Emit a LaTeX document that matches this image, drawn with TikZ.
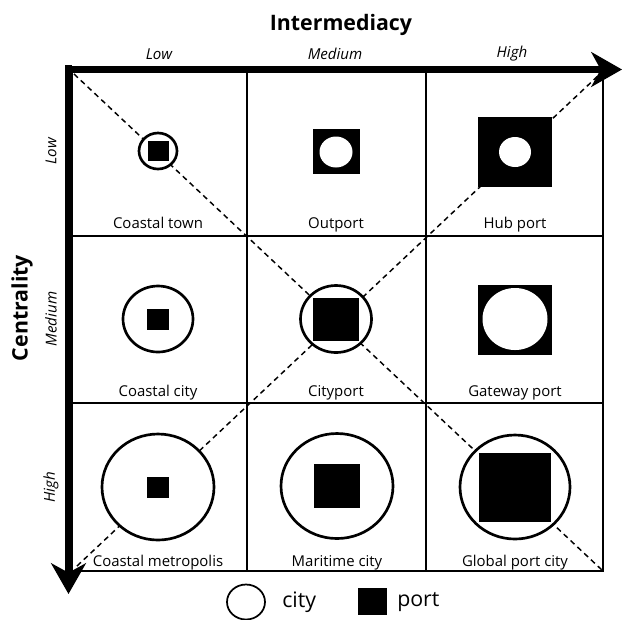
\documentclass[tikz,border=0pt]{standalone}
\usepackage{fontspec}
\setmainfont{Open Sans}
\usetikzlibrary{arrows.meta}

\begin{document}
\begin{tikzpicture}[x=0.75pt,y=0.75pt,yscale=-1,xscale=1,
    cellline/.style={line width=1pt},
    diagline/.style={line width=1.1pt, dash pattern=on 4pt off 3pt},
    axis/.style={line width=4.6pt, -{Stealth[length=23pt,width=26pt,inset=7pt]}},
    city/.style={draw, line width=2pt, fill=white},
    port/.style={fill=black},
    hole/.style={fill=white},
    cellname/.style={anchor=base, inner sep=0.75pt, font=\fontsize{11.2}{13}\selectfont},
    level/.style={inner sep=0.75pt, font=\itshape\fontsize{11.3}{13}\selectfont},
    axisname/.style={inner sep=0.75pt, font=\bfseries\fontsize{16}{19}\selectfont},
    legendtext/.style={anchor=west, inner sep=0.75pt, font=\fontsize{16}{19}\selectfont}]
    \useasboundingbox (0,0) rectangle (623,619);

    %Shape: Grid
    \draw [cellline] (72,72) rectangle (603,571);
    \draw [cellline] (247,72) -- (247,571) (426,72) -- (426,571);
    \draw [cellline] (72,236) -- (603,236) (72,403) -- (603,403);

    %Straight Lines: diagonals
    \draw [diagline] (74,74) -- (603,571);
    \draw [diagline] (77,566) -- (601,73);

    %Shape: Coastal town
    \draw [city] (158,151) ellipse (19 and 18);
    \fill [port] (147.5,141) rectangle (168.5,161);
    %Shape: Outport
    \fill [port] (312.5,129) rectangle (359.5,174);
    \fill [hole] (336,152) ellipse (16.5 and 15.5);
    %Shape: Hub port
    \fill [port] (478,117) rectangle (552,187);
    \fill [hole] (515,152) ellipse (16 and 15);

    %Shape: Coastal city
    \draw [city] (158,319) ellipse (35 and 33);
    \fill [port] (147,308.5) rectangle (169,329.5);
    %Shape: Cityport
    \draw [city] (336,319) ellipse (35.5 and 33.5);
    \fill [port] (313,297.5) rectangle (359,340.5);
    %Shape: Gateway port
    \fill [port] (478,285) rectangle (552,355);
    \fill [hole] (515,319) ellipse (32.5 and 31);

    %Shape: Coastal metropolis
    \draw [city] (158,487) ellipse (56 and 53);
    \fill [port] (147,476.5) rectangle (169,497.5);
    %Shape: Maritime city
    \draw [city] (337,486) ellipse (56 and 52.5);
    \fill [port] (314,464) rectangle (360,508);
    %Shape: Global port city
    \draw [city] (515,487) ellipse (55 and 52);
    \fill [port] (479,452.5) rectangle (551,521.5);

    %Shape: Axes
    \draw [axis] (65,69.5) -- (622,69.5);
    \draw [axis] (68.5,65) -- (68.5,594);

    % Text Node
    \node [cellname] (ctown) at (158,228) {Coastal town};
    % Text Node
    \node [cellname] (outport) at (336,228) {Outport};
    % Text Node
    \node [cellname] (hub) at (515,228) {Hub port};
    % Text Node
    \node [cellname] (ccity) at (158,396) {Coastal city};
    % Text Node
    \node [cellname] (cityport) at (336,396) {Cityport};
    % Text Node
    \node [cellname] (gateway) at (515,396) {Gateway port};
    % Text Node
    \node [cellname] (cmetro) at (158,566) {Coastal metropolis};
    % Text Node
    \node [cellname] (maritime) at (337,566) {Maritime city};
    % Text Node
    \node [cellname] (global) at (515,566) {Global port city};

    % Text Node
    \node [axisname] (inter) at (341,25) {Intermediacy};
    % Text Node
    \node [level] (ilow) at (159,54) {Low};
    % Text Node
    \node [level] (imed) at (335,54) {Medium};
    % Text Node
    \node [level] (ihigh) at (512,54) {High};

    % Text Node
    \node [axisname, rotate=90] (centr) at (22,308) {Centrality};
    % Text Node
    \node [level, rotate=90] (clow) at (51,151) {Low};
    % Text Node
    \node [level, rotate=90] (cmed) at (51,319) {Medium};
    % Text Node
    \node [level, rotate=90] (chigh) at (51,487) {High};

    %Shape: Legend
    \draw [line width=1.3pt] (246,602) ellipse (19 and 17.5);
    \fill [port] (358,588) rectangle (387,615);
    % Text Node
    \node [legendtext] (lcity) at (281,602) {city};
    % Text Node
    \node [legendtext] (lport) at (396,602) {port};
\end{tikzpicture}
\end{document}
